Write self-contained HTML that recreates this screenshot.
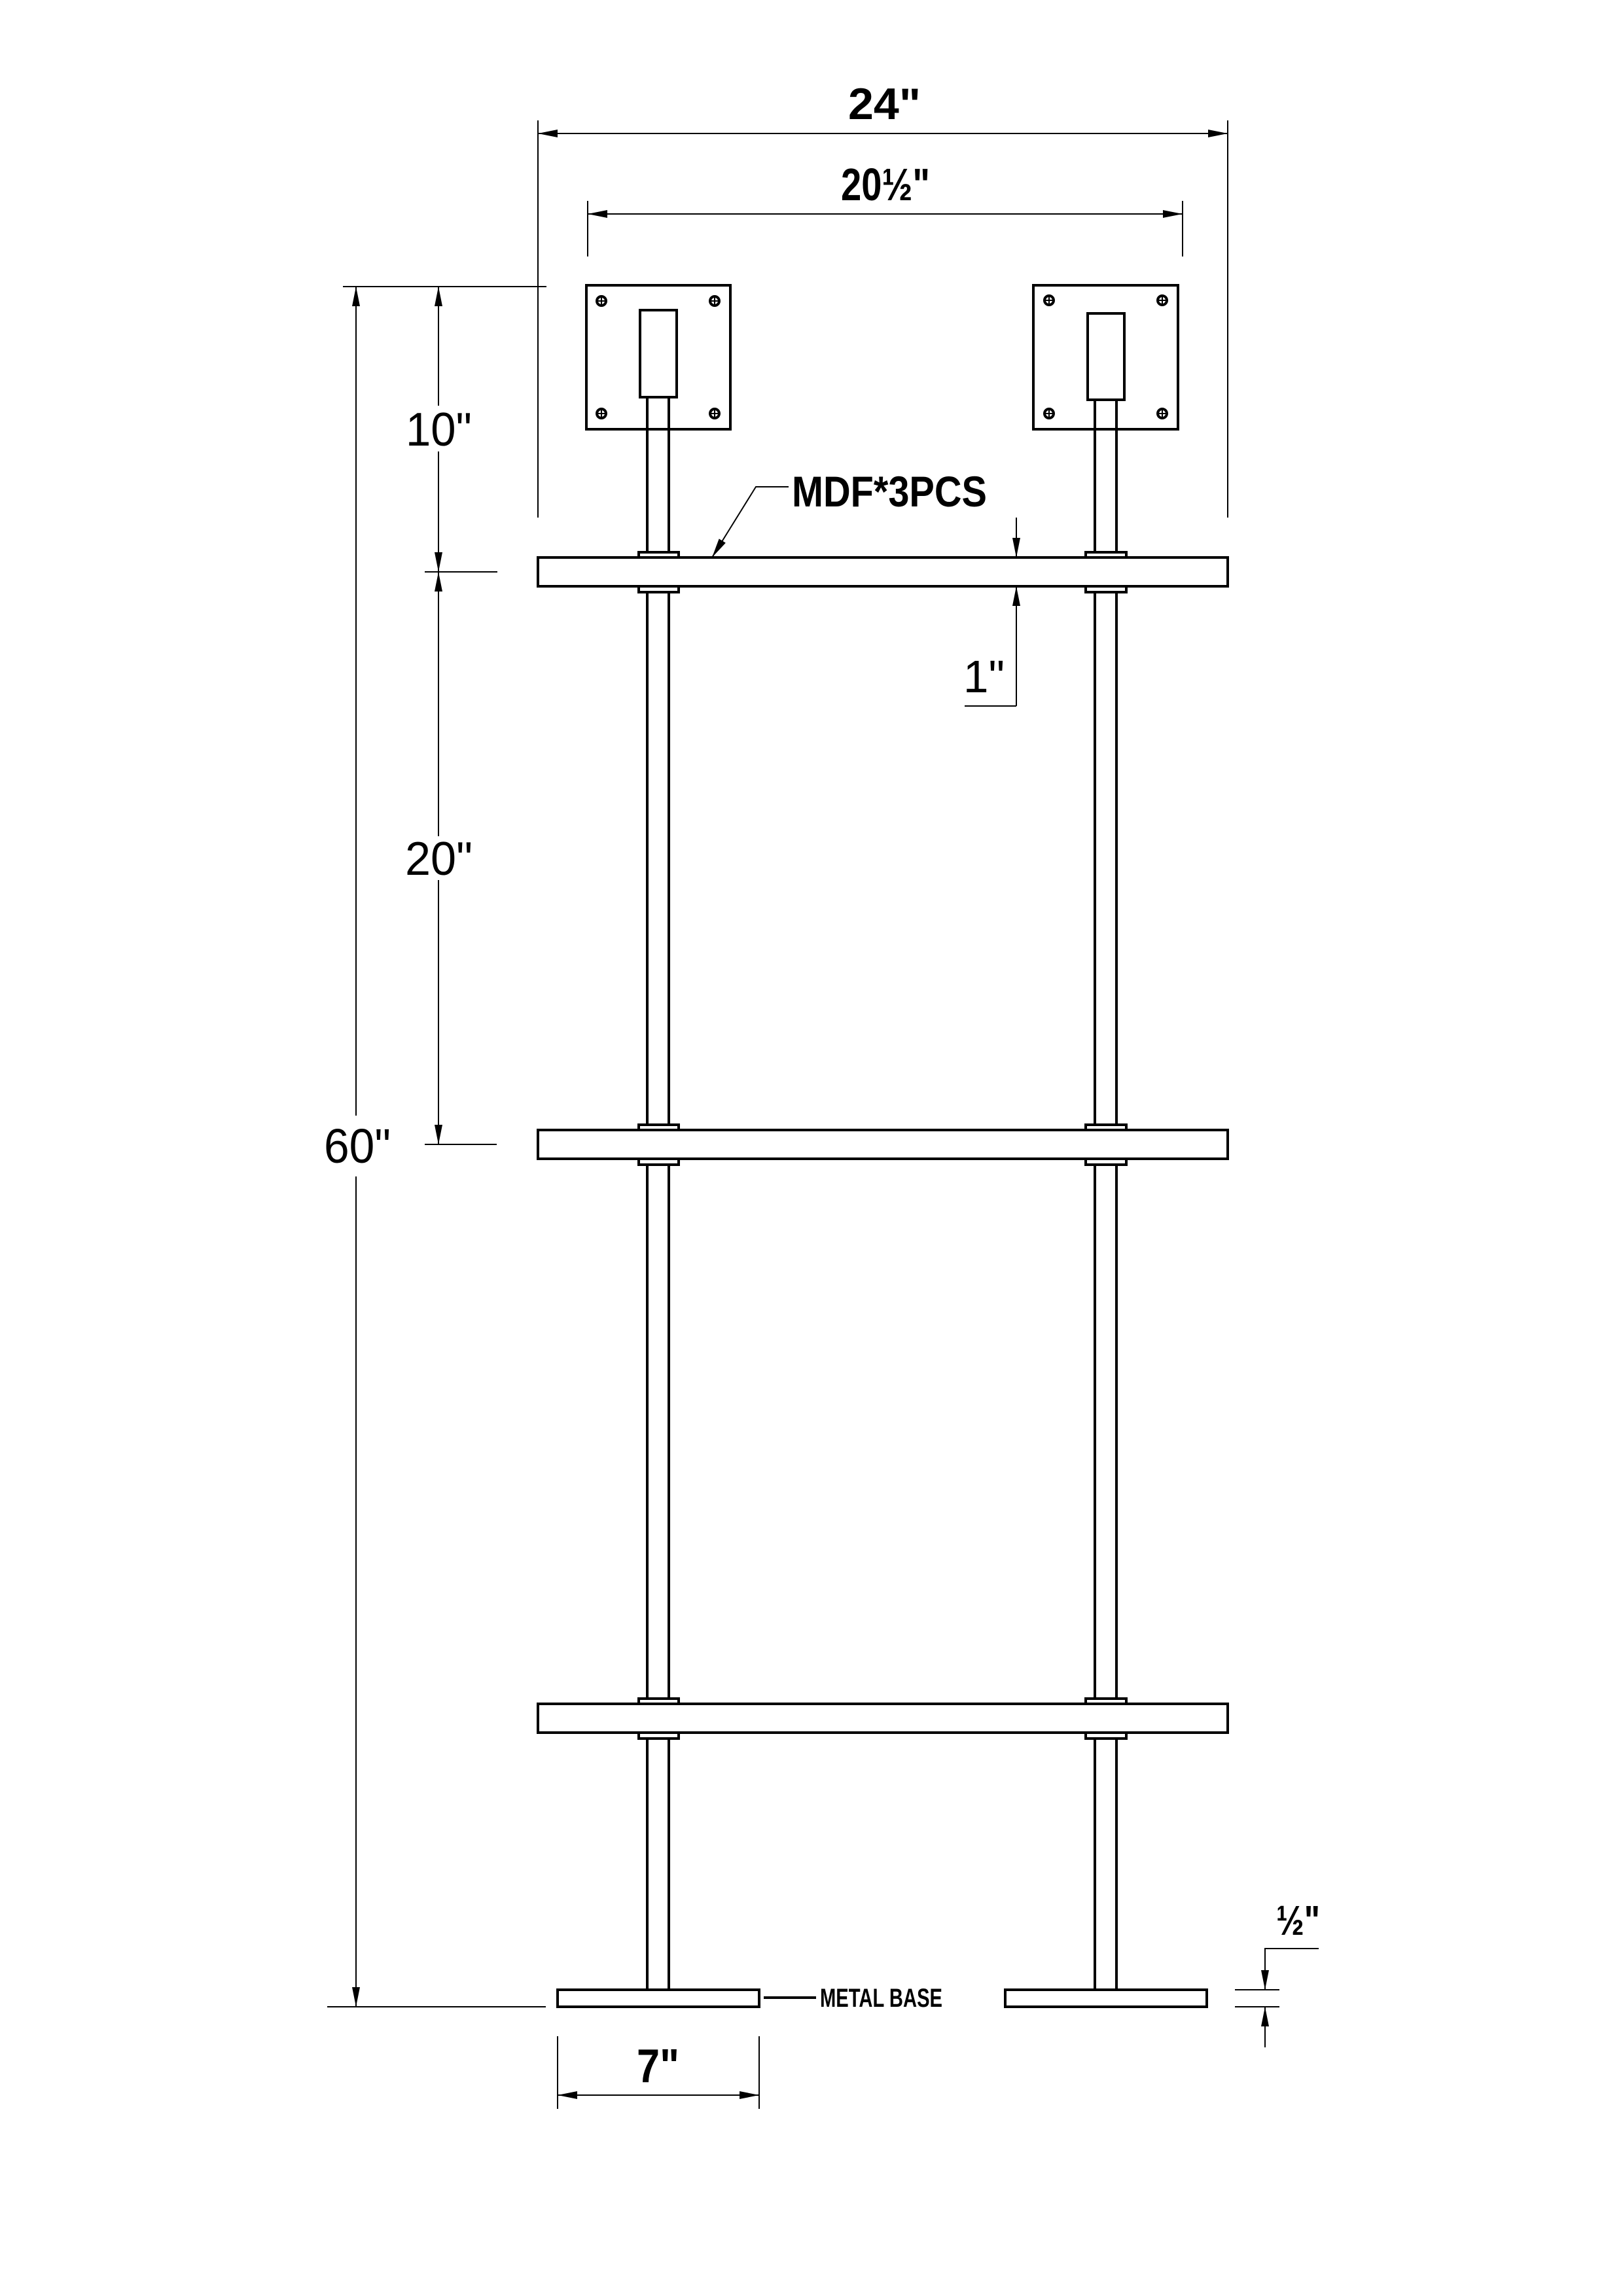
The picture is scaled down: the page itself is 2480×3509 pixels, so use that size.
<!DOCTYPE html>
<html><head><meta charset="utf-8"><style>
html,body{margin:0;padding:0;background:#fff;}
svg{display:block;}
text{font-family:"Liberation Sans",sans-serif;fill:#000;}
</style></head><body>
<svg width="2480" height="3509" viewBox="0 0 2480 3509" xmlns="http://www.w3.org/2000/svg">
<rect width="2480" height="3509" fill="#fff"/>
<defs>
<marker id="a" viewBox="0 0 30 12" refX="30" refY="6" markerWidth="30" markerHeight="12" markerUnits="userSpaceOnUse" orient="auto-start-reverse"><path d="M0,0 L30,6 L0,12 Z" fill="#000"/></marker>
</defs>
<g stroke="#000" stroke-width="2" fill="none">
<line x1="822" y1="184" x2="822" y2="791"/>
<line x1="1876" y1="184" x2="1876" y2="791"/>
<line x1="822" y1="204" x2="1876" y2="204" marker-start="url(#a)" marker-end="url(#a)"/>
<line x1="898" y1="307" x2="898" y2="392"/>
<line x1="1807" y1="307" x2="1807" y2="392"/>
<line x1="898" y1="327" x2="1807" y2="327" marker-start="url(#a)" marker-end="url(#a)"/>
<line x1="524" y1="438" x2="835" y2="438"/>
<line x1="544" y1="438" x2="544" y2="1705" marker-start="url(#a)"/>
<line x1="544" y1="1798" x2="544" y2="3067" marker-end="url(#a)"/>
<line x1="500" y1="3067" x2="834" y2="3067"/>
<line x1="670" y1="438" x2="670" y2="620" marker-start="url(#a)"/>
<line x1="670" y1="690" x2="670" y2="874" marker-end="url(#a)"/>
<line x1="649" y1="874" x2="760" y2="874"/>
<line x1="670" y1="874" x2="670" y2="1278" marker-start="url(#a)"/>
<line x1="670" y1="1345" x2="670" y2="1749" marker-end="url(#a)"/>
<line x1="649" y1="1749" x2="759" y2="1749"/>
<line x1="1553" y1="791" x2="1553" y2="852" marker-end="url(#a)"/>
<line x1="1553" y1="1079" x2="1553" y2="896" marker-end="url(#a)"/>
<line x1="1474" y1="1079" x2="1553" y2="1079"/>
<polyline points="1205,744 1155,744 1088,852" marker-end="url(#a)"/>
<line x1="852" y1="3112" x2="852" y2="3223"/>
<line x1="1160" y1="3112" x2="1160" y2="3223"/>
<line x1="852" y1="3202" x2="1160" y2="3202" marker-start="url(#a)" marker-end="url(#a)"/>
<line x1="1887" y1="3041" x2="1955" y2="3041"/>
<line x1="1887" y1="3067" x2="1955" y2="3067"/>
<polyline points="2015,2978 1933,2978 1933,3041" marker-end="url(#a)"/>
<line x1="1933" y1="3129" x2="1933" y2="3067" marker-end="url(#a)"/>
</g>
<g stroke="#000" stroke-width="4" fill="#fff">
<rect x="989" y="607" width="33" height="2440"/>
<rect x="1673" y="611" width="33" height="2436"/>
<rect x="896" y="436" width="220" height="220"/>
<rect x="1579" y="436" width="221" height="220"/>
<line x1="989" y1="607" x2="989" y2="658"/><line x1="1022" y1="607" x2="1022" y2="658"/>
<line x1="1673" y1="611" x2="1673" y2="658"/><line x1="1706" y1="611" x2="1706" y2="658"/>
<rect x="978" y="474" width="56" height="133"/>
<rect x="1662" y="479" width="56" height="132"/>
<rect x="976" y="844" width="61" height="8"/><rect x="976" y="896" width="61" height="9"/>
<rect x="1659" y="844" width="62" height="8"/><rect x="1659" y="896" width="62" height="9"/>
<rect x="822" y="852" width="1054" height="44"/>
<rect x="976" y="1719" width="61" height="8"/><rect x="976" y="1771" width="61" height="9"/>
<rect x="1659" y="1719" width="62" height="8"/><rect x="1659" y="1771" width="62" height="9"/>
<rect x="822" y="1727" width="1054" height="44"/>
<rect x="976" y="2596" width="61" height="8"/><rect x="976" y="2648" width="61" height="9"/>
<rect x="1659" y="2596" width="62" height="8"/><rect x="1659" y="2648" width="62" height="9"/>
<rect x="822" y="2604" width="1054" height="44"/>
<rect x="852" y="3041" width="308" height="26"/>
<rect x="1536" y="3041" width="308" height="26"/>
<line x1="1167" y1="3053" x2="1247" y2="3053"/>
</g>
<g stroke="#000" fill="none">
<g stroke-width="4"><circle cx="919" cy="460" r="7"/><circle cx="1092" cy="460" r="7"/><circle cx="919" cy="632" r="7"/><circle cx="1092" cy="632" r="7"/>
<circle cx="1603" cy="459" r="7"/><circle cx="1776" cy="459" r="7"/><circle cx="1603" cy="632" r="7"/><circle cx="1776" cy="632" r="7"/></g>
<g stroke-width="2">
<path d="M912,460h14M919,453v14M1085,460h14M1092,453v14M912,632h14M919,625v14M1085,632h14M1092,625v14"/>
<path d="M1596,459h14M1603,452v14M1769,459h14M1776,452v14M1596,632h14M1603,625v14M1769,632h14M1776,625v14"/>
</g></g>
<text x="1296" y="182" font-size="68" font-weight="bold" textLength="111" lengthAdjust="spacingAndGlyphs">24"</text>
<text x="1285" y="306" font-size="70" font-weight="bold" textLength="136" lengthAdjust="spacingAndGlyphs">20½"</text>
<text x="620" y="681" font-size="72" textLength="101" lengthAdjust="spacingAndGlyphs">10"</text>
<text x="619" y="1337" font-size="72" textLength="103" lengthAdjust="spacingAndGlyphs">20"</text>
<text x="495" y="1777" font-size="74" textLength="102" lengthAdjust="spacingAndGlyphs">60"</text>
<text x="1210" y="774" font-size="66" font-weight="bold" textLength="298" lengthAdjust="spacingAndGlyphs">MDF*3PCS</text>
<text x="1472" y="1058" font-size="70" textLength="63" lengthAdjust="spacingAndGlyphs">1"</text>
<text x="973" y="3182" font-size="72" font-weight="bold" textLength="65" lengthAdjust="spacingAndGlyphs">7"</text>
<text x="1950" y="2957" font-size="64" font-weight="bold" textLength="67" lengthAdjust="spacingAndGlyphs">½"</text>
<text x="1253" y="3067" font-size="40" font-weight="bold" textLength="187" lengthAdjust="spacingAndGlyphs">METAL BASE</text>
</svg>
</body></html>
